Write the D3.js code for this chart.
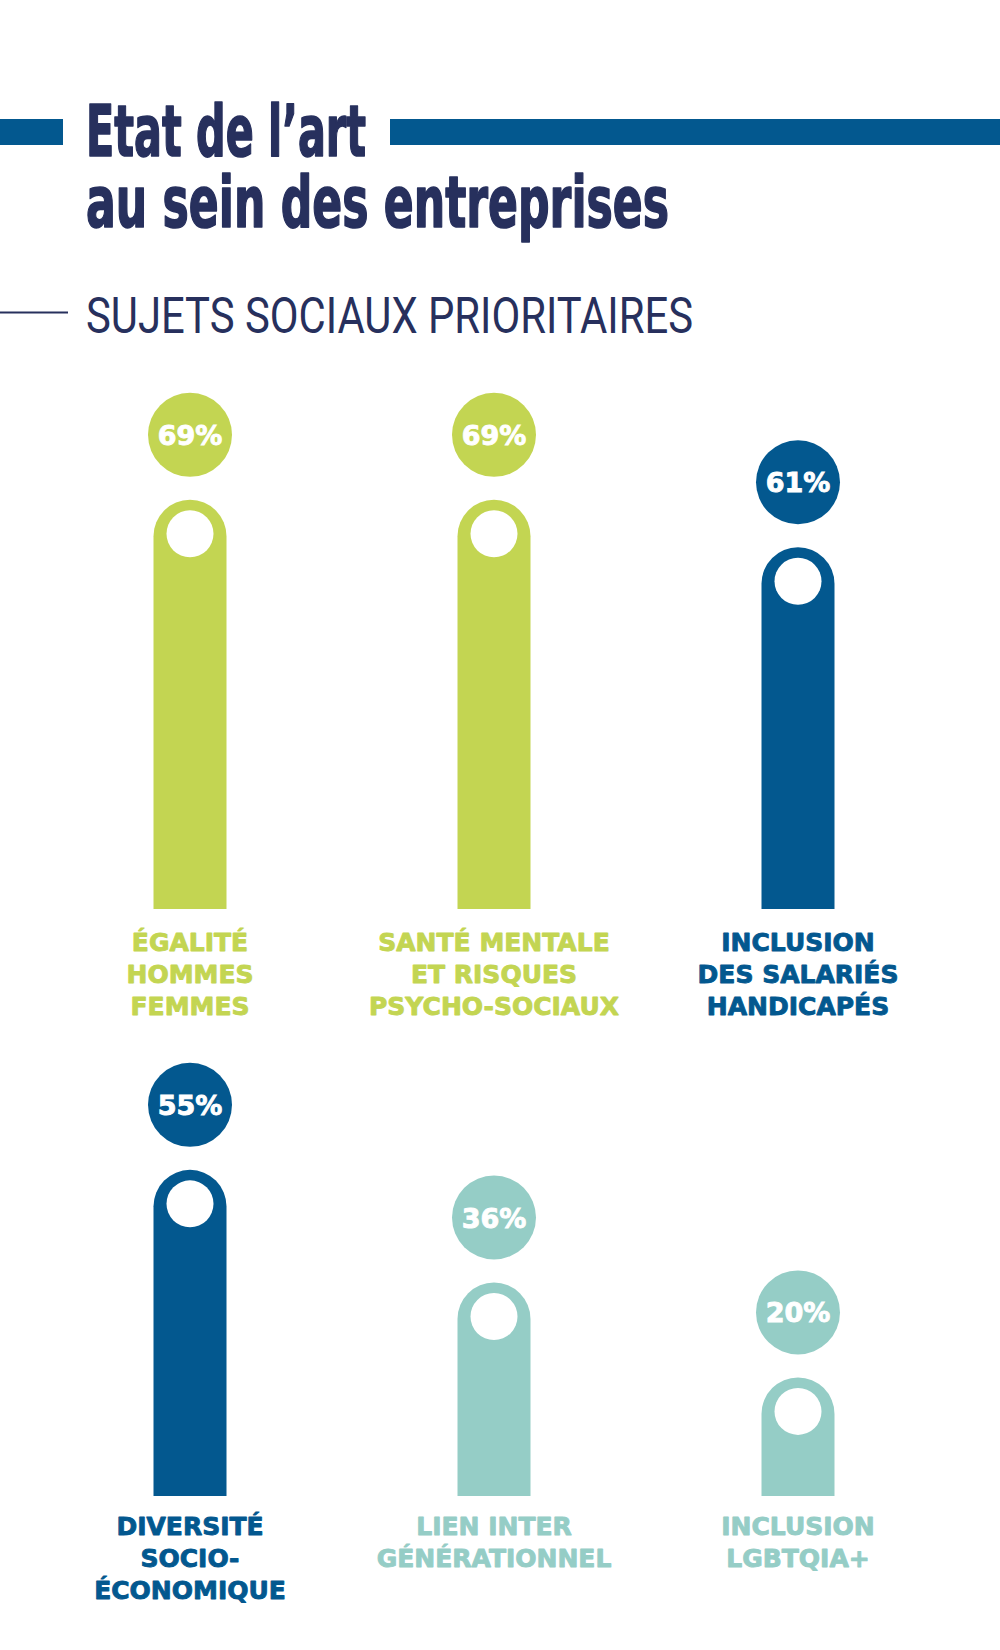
<!DOCTYPE html>
<html>
<head>
<meta charset="utf-8">
<script src="https://cdn.jsdelivr.net/npm/d3@7"></script>
<style>
  html, body { margin: 0; padding: 0; background: #ffffff; }
  svg { display: block; }
</style>
</head>
<body>
<svg id="chart" width="1000" height="1650"></svg>
<script>
// ---------- DATA ----------
const titleLines = ["Etat de l’art", "au sein des entreprises"];
const subtitle = "SUJETS SOCIAUX PRIORITAIRES";
const categories = [
  ["ÉGALITÉ", "HOMMES", "FEMMES"],
  ["SANTÉ MENTALE", "ET RISQUES", "PSYCHO-SOCIAUX"],
  ["INCLUSION", "DES SALARIÉS", "HANDICAPÉS"],
  ["DIVERSITÉ", "SOCIO-", "ÉCONOMIQUE"],
  ["LIEN INTER", "GÉNÉRATIONNEL"],
  ["INCLUSION", "LGBTQIA+"]
];
const values = [69, 69, 61, 55, 36, 20];
const colorGroups = ["green", "green", "blue", "blue", "teal", "teal"];
const palette = { green: "#c3d552", blue: "#03588f", teal: "#95cdc6" };

// ---------- LAYOUT ----------
const W = 1000;
const navy = "#27305d";
const svg = d3.select("#chart");

// Title decoration bars
svg.append("rect").attr("x", 0).attr("y", 119).attr("width", 63).attr("height", 26).attr("fill", "#03588f");
svg.append("rect").attr("x", 390).attr("y", 119).attr("width", W - 390).attr("height", 26).attr("fill", "#03588f");

// Title (one text block, two lines)
const titleBaselines = [156, 227];
const titleWidths = [280, 583];
const title = svg.append("text")
  .attr("font-family", "'DejaVu Sans Condensed', 'DejaVu Sans', sans-serif")
  .attr("font-weight", "bold")
  .attr("font-size", 72)
  .attr("fill", navy)
  .attr("stroke", navy)
  .attr("stroke-width", 1.6)
  .attr("stroke-linejoin", "round");
titleLines.forEach((t, i) => {
  title.append("tspan")
    .attr("x", 86).attr("y", titleBaselines[i])
    .attr("textLength", titleWidths[i])
    .attr("lengthAdjust", "spacingAndGlyphs")
    .text(t);
});

// Subtitle
svg.append("line").attr("x1", 0).attr("x2", 68).attr("y1", 312.5).attr("y2", 312.5)
  .attr("stroke", navy).attr("stroke-width", 2);
svg.append("text")
  .attr("x", 86).attr("y", 333)
  .attr("textLength", 607)
  .attr("lengthAdjust", "spacingAndGlyphs")
  .attr("font-family", "Roboto, 'DejaVu Sans', sans-serif")
  .attr("font-weight", 400)
  .attr("font-size", 50)
  .attr("fill", navy)
  .text(subtitle);

// Scales
const idx = d3.range(values.length);
const x = d3.scalePoint().domain([0, 1, 2]).range([190, 798]);
const h = d3.scaleLinear().domain([0, 100]).range([0, 593]);
const rowBaseline = [909, 1496];
const labelOffset = [42, 39];
const barW = 73;
const rr = barW / 2;

const items = idx.map(i => ({
  i, value: values[i], lines: categories[i], color: palette[colorGroups[i]],
  cx: x(i % 3), row: Math.floor(i / 3), base: rowBaseline[Math.floor(i / 3)]
}));

const g = svg.append("g");

items.forEach(d => {
  const top = d.base - h(d.value);
  const x0 = d.cx - rr, x1 = d.cx + rr;
  // bar with rounded top
  const path = `M${x0},${d.base} L${x0},${top + rr} A${rr},${rr} 0 0 1 ${x1},${top + rr} L${x1},${d.base} Z`;
  g.append("path").attr("d", path).attr("fill", d.color);
  // white hole
  g.append("circle").attr("cx", d.cx).attr("cy", top + 34).attr("r", 23.5).attr("fill", "#ffffff");
  // bubble
  const by = top - 65;
  g.append("circle").attr("cx", d.cx).attr("cy", by).attr("r", 42).attr("fill", d.color);
  g.append("text")
    .attr("x", d.cx).attr("y", by + 10)
    .attr("text-anchor", "middle")
    .attr("font-family", "'DejaVu Sans', sans-serif")
    .attr("font-weight", "bold")
    .attr("font-size", 27)
    .attr("fill", "#ffffff")
    .attr("stroke", "#ffffff")
    .attr("stroke-width", 0.9)
    .text(d.value + "%");
  // label
  d.lines.forEach((ln, k) => {
    g.append("text")
      .attr("x", d.cx).attr("y", d.base + labelOffset[d.row] + k * 32)
      .attr("text-anchor", "middle")
      .attr("font-family", "'DejaVu Sans', sans-serif")
      .attr("font-weight", "bold")
      .attr("font-size", 25)
      .attr("fill", d.color)
      .attr("stroke", d.color)
      .attr("stroke-width", 0.9)
      .attr("stroke-linejoin", "round")
      .text(ln);
  });
});
</script>
</body>
</html>
